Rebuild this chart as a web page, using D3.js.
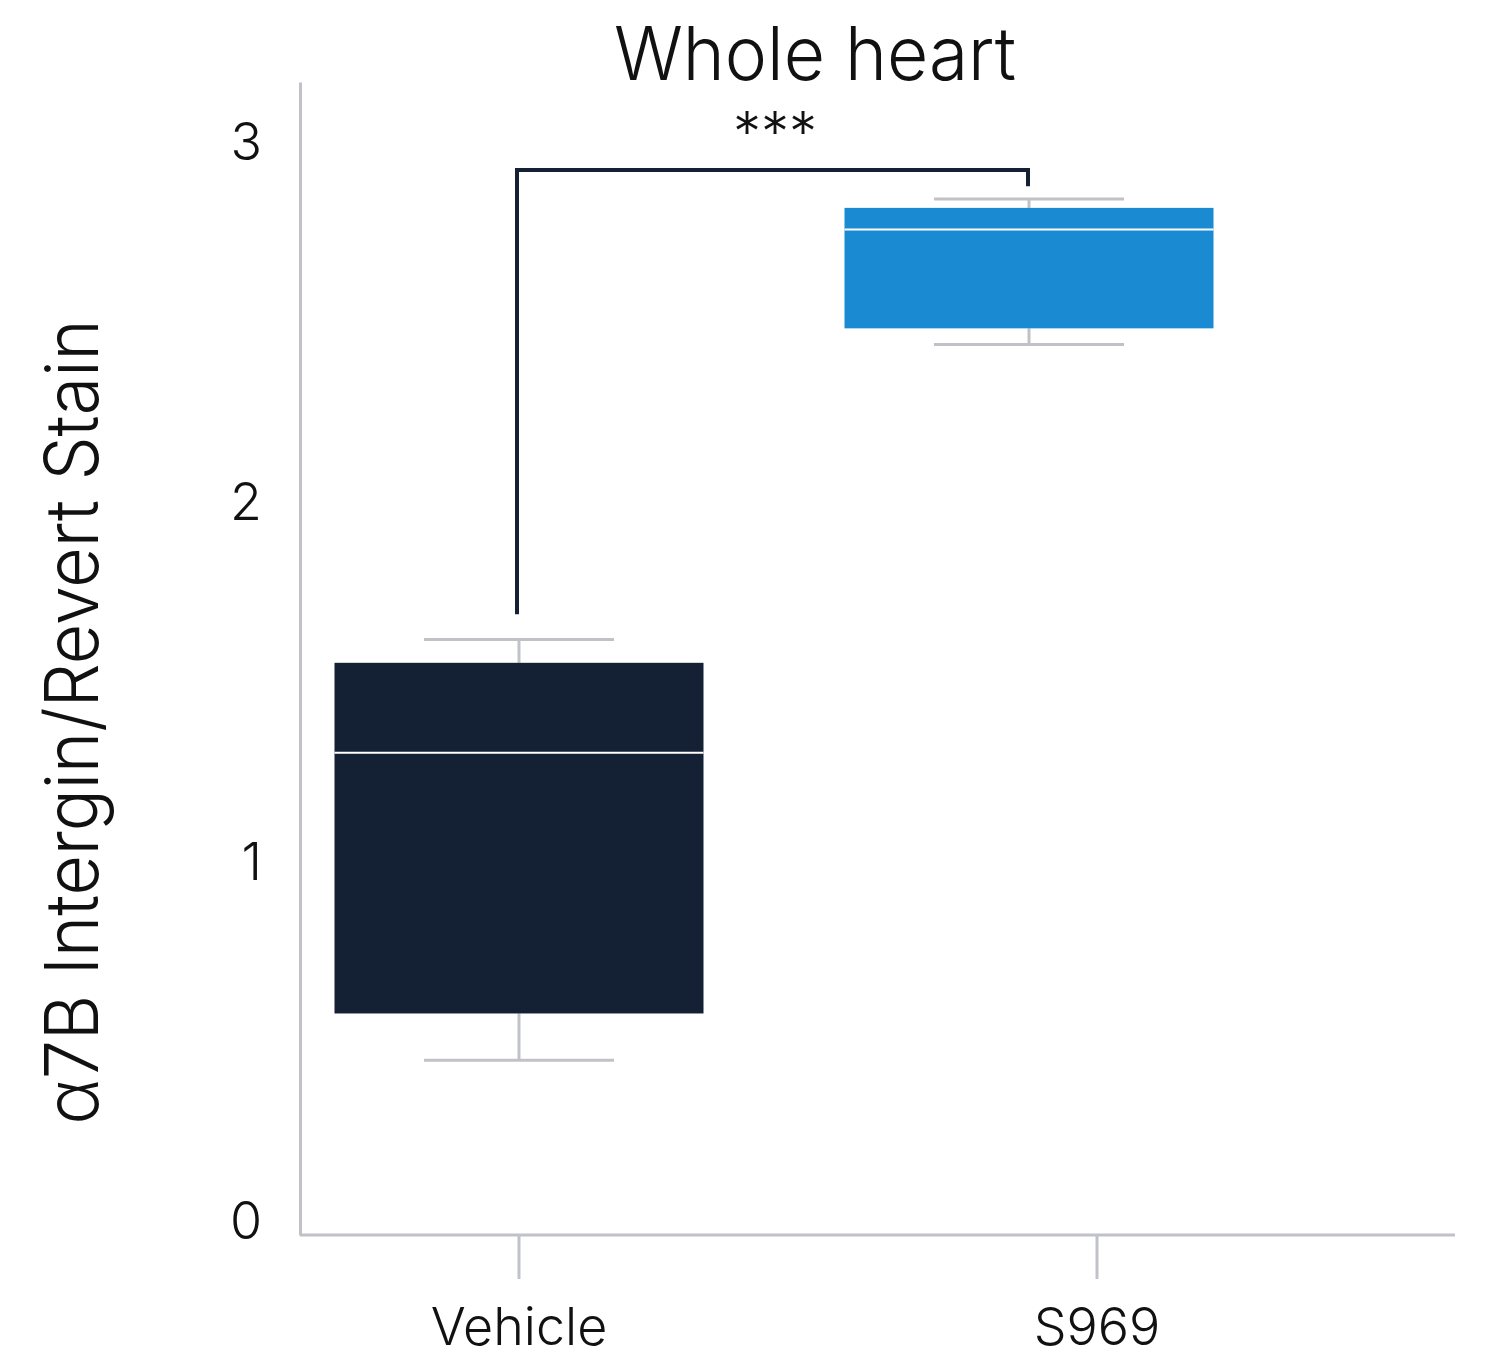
<!DOCTYPE html>
<html>
<head>
<meta charset="utf-8">
<script src="https://cdn.jsdelivr.net/npm/d3@7/dist/d3.min.js"></script>
<style>
  html, body { margin: 0; padding: 0; background: #ffffff; }
  svg { display: block; font-family: Inter, "Noto Sans", sans-serif; }
</style>
</head>
<body>
<svg id="chart" width="1492" height="1359"></svg>
<script>
// Box-plot summaries per group
const categories = ["Vehicle", "S969"];
const whiskerLow  = [0.45, 2.44];
const q1          = [0.58, 2.485];
const median      = [1.305, 2.76];
const q3          = [1.555, 2.82];
const whiskerHigh = [1.62, 2.845];
const boxColors   = ["#142135", "#1a8ad2"];
const yTicks      = [0, 1, 2, 3];

// Significance bracket: heights of its left leg, top bar and right leg
const bracketLevels = [1.69, 2.925, 2.88];
const bracketLabel = "***";

const svg = d3.select("#chart");

const y = d3.scaleLinear().domain([-0.036, 3.17]).range([1235, 82]);
// axis tick positions and box centres
const xTick = d3.scalePoint().domain(categories).range([519, 1097]);
const xBox  = d3.scalePoint().domain(categories).range([519, 1029]);
const boxWidth = 369, capWidth = 190;

const axisColor = "#c0c2c8";
const textWeight = 300;

// Title
svg.append("text")
  .attr("x", 815).attr("y", 80)
  .attr("text-anchor", "middle")
  .attr("font-size", 74)
  .attr("font-weight", textWeight)
  .attr("textLength", 402)
  .attr("lengthAdjust", "spacingAndGlyphs")
  .attr("fill", "#111")
  .text("Whole heart");

// Y axis
const yAxis = svg.append("g")
  .attr("transform", "translate(300,0)")
  .call(d3.axisLeft(y).tickValues(yTicks).tickSize(0).tickPadding(38).tickFormat(d3.format("d")));
yAxis.select(".domain").attr("stroke", axisColor).attr("stroke-width", 3);
yAxis.selectAll("text")
  .attr("font-size", 52)
  .attr("font-weight", textWeight)
  .attr("fill", "#111")
  .attr("font-family", "Inter, sans-serif");

// X axis
const xAxisG = svg.append("g").attr("transform", "translate(0,1235)");
xAxisG.append("line")
  .attr("x1", 300).attr("x2", 1455)
  .attr("stroke", axisColor).attr("stroke-width", 3);
xAxisG.selectAll("line.tick").data(categories).join("line")
  .attr("class", "tick")
  .attr("x1", d => xTick(d)).attr("x2", d => xTick(d))
  .attr("y1", 0).attr("y2", 44)
  .attr("stroke", axisColor).attr("stroke-width", 3);
xAxisG.selectAll("text").data(categories).join("text")
  .attr("x", d => xTick(d)).attr("y", 110)
  .attr("text-anchor", "middle")
  .attr("font-size", 52)
  .attr("font-weight", textWeight)
  .attr("fill", "#111")
  .text(d => d);

// Y axis label
svg.append("text")
  .attr("transform", "translate(98,722) rotate(-90)")
  .attr("text-anchor", "middle")
  .attr("font-size", 74)
  .attr("font-weight", textWeight)
  .attr("fill", "#111")
  .attr("textLength", 805)
  .attr("lengthAdjust", "spacingAndGlyphs")
  .text("α7B Intergin/Revert Stain");

// Boxes
const groups = categories.map((c, i) => ({
  c, lo: whiskerLow[i], q1: q1[i], med: median[i], q3: q3[i], hi: whiskerHigh[i], color: boxColors[i]
}));

const g = svg.append("g");
groups.forEach(d => {
  const cx = xBox(d.c);
  const gg = g.append("g");
  // whisker stems
  gg.append("line").attr("x1", cx).attr("x2", cx).attr("y1", y(d.hi)).attr("y2", y(d.q3))
    .attr("stroke", axisColor).attr("stroke-width", 3);
  gg.append("line").attr("x1", cx).attr("x2", cx).attr("y1", y(d.q1)).attr("y2", y(d.lo))
    .attr("stroke", axisColor).attr("stroke-width", 3);
  // caps
  [d.lo, d.hi].forEach(v => {
    gg.append("line")
      .attr("x1", cx - capWidth / 2).attr("x2", cx + capWidth / 2)
      .attr("y1", y(v)).attr("y2", y(v))
      .attr("stroke", axisColor).attr("stroke-width", 3);
  });
  // box
  gg.append("rect")
    .attr("x", cx - boxWidth / 2).attr("width", boxWidth)
    .attr("y", y(d.q3)).attr("height", y(d.q1) - y(d.q3))
    .attr("fill", d.color);
  // median
  gg.append("line")
    .attr("x1", cx - boxWidth / 2).attr("x2", cx + boxWidth / 2)
    .attr("y1", y(d.med)).attr("y2", y(d.med))
    .attr("stroke", "#ffffff").attr("stroke-width", 2);
});

// Significance bracket
const bx1 = xBox(categories[0]) - 2, bx2 = xBox(categories[1]) - 1;
svg.append("path")
  .attr("d", `M${bx1},${y(bracketLevels[0])} V${y(bracketLevels[1])} H${bx2} V${y(bracketLevels[2])}`)
  .attr("fill", "none")
  .attr("stroke", "#142135")
  .attr("stroke-width", 4);
svg.append("text")
  .attr("x", 775).attr("y", 152)
  .attr("text-anchor", "middle")
  .attr("font-size", 56)
  .attr("font-weight", textWeight)
  .attr("fill", "#111")
  .text(bracketLabel);
</script>
</body>
</html>
